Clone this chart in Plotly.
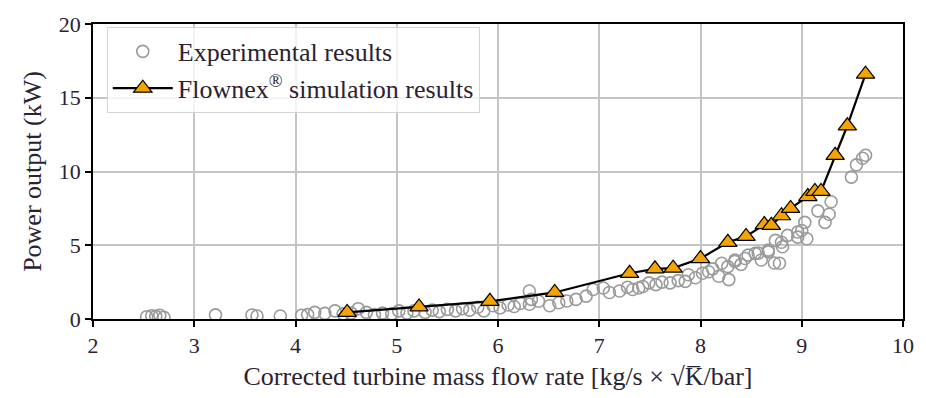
import plotly.graph_objects as go

# Experimental measurements: corrected mass flow rate vs power output (kW)
exp_flow = [2.53, 2.58, 2.62, 2.66, 2.70, 3.21, 3.57, 3.62, 3.85, 4.06, 4.12, 4.19, 4.29,
            4.39, 4.47, 4.55, 4.62, 4.70, 4.78, 4.86, 4.95, 5.02, 5.10, 5.17, 5.28, 5.35,
            5.42, 5.50, 5.58, 5.65, 5.72, 5.80, 5.86, 5.95, 6.02, 6.10, 6.16, 6.22, 6.31,
            6.33, 6.31, 6.40, 6.51, 6.60, 6.68, 6.77, 6.87, 6.94, 7.04, 7.10, 7.20, 7.28,
            7.33, 7.39, 7.43, 7.49, 7.56, 7.62, 7.70, 7.78, 7.85, 7.88, 7.95, 8.02, 8.08,
            8.12, 8.18, 8.21, 8.27, 8.28, 8.34, 8.34, 8.40, 8.44, 8.47, 8.54, 8.57, 8.60,
            8.67, 8.67, 8.73, 8.74, 8.78, 8.80, 8.81, 8.86, 8.96, 8.96, 9.00, 9.03, 9.05,
            9.16, 9.23, 9.27, 9.29, 9.49, 9.54, 9.60, 9.63]
exp_power = [0.15, 0.22, 0.18, 0.25, 0.12, 0.28, 0.27, 0.20, 0.20, 0.25, 0.30, 0.45, 0.38,
             0.55, 0.35, 0.40, 0.70, 0.45, 0.30, 0.40, 0.35, 0.55, 0.40, 0.55, 0.45, 0.60,
             0.50, 0.65, 0.55, 0.70, 0.60, 0.80, 0.55, 0.90, 0.75, 0.95, 0.85, 1.05, 1.90,
             1.33, 1.00, 1.20, 0.90, 1.10, 1.22, 1.33, 1.55, 2.00, 2.10, 1.80, 1.90, 2.15,
             2.00, 2.10, 2.20, 2.45, 2.33, 2.50, 2.45, 2.60, 2.55, 3.00, 2.80, 3.10, 3.20,
             3.40, 2.90, 3.78, 3.55, 2.67, 3.90, 4.00, 3.70, 4.10, 4.33, 4.45, 4.47, 4.00,
             4.55, 4.67, 3.80, 5.33, 3.78, 5.20, 4.90, 5.67, 5.55, 5.90, 6.00, 6.55, 5.44,
             7.33, 6.55, 7.10, 7.95, 9.62, 10.45, 10.90, 11.10]

# Flownex simulation results
sim_flow = [4.51, 5.22, 5.92, 6.56, 7.30, 7.55, 7.73, 8.00, 8.27, 8.45, 8.63, 8.70, 8.80,
            8.89, 9.06, 9.13, 9.19, 9.33, 9.45, 9.63]
sim_power = [0.45, 0.82, 1.20, 1.80, 3.10, 3.40, 3.45, 4.10, 5.20, 5.60, 6.40, 6.35, 7.00,
             7.50, 8.30, 8.65, 8.65, 11.10, 13.10, 16.60]

x_ticks = [2, 3, 4, 5, 6, 7, 8, 9, 10]
y_ticks = [0, 5, 10, 15, 20]

serif = "Liberation Serif, Times New Roman, serif"
ink = "#2a2233"

fig = go.Figure()
fig.add_trace(go.Scatter(
    x=exp_flow, y=exp_power, mode="markers", name="Experimental results",
    marker=dict(symbol="circle-open", size=12, color="#9a9a9a", line=dict(width=1.6)),
))
fig.add_trace(go.Scatter(
    x=sim_flow, y=sim_power, mode="lines+markers",
    name="Flownex<sup>®</sup> simulation results",
    line=dict(color="black", width=2.2),
    marker=dict(symbol="triangle-up", size=16, color="#f5a300",
                line=dict(color="black", width=1.2)),
))

fig.update_layout(
    width=926, height=398,
    margin=dict(l=93, r=17, t=20, b=78),
    plot_bgcolor="white", paper_bgcolor="white",
    showlegend=True,
    legend=dict(
        x=0.017, y=0.99, xanchor="left", yanchor="top",
        bgcolor="rgba(255,255,255,0.8)", bordercolor="#d4d4d4", borderwidth=1,
        font=dict(family=serif, size=26, color=ink),
        itemwidth=60,
    ),
)
fig.update_xaxes(
    range=[2, 10], tickvals=x_ticks, ticktext=[str(v) for v in x_ticks],
    showgrid=True, gridcolor="#c4c4c4", gridwidth=1.5,
    showline=True, linecolor="black", linewidth=1.5, mirror=True,
    ticks="outside", ticklen=6, tickwidth=1.5, tickcolor="black",
    tickfont=dict(family=serif, size=22, color=ink),
    title=dict(text="Corrected turbine mass flow rate [kg/s × √K\u0305/bar]",
               font=dict(family=serif, size=26, color=ink), standoff=10),
    zeroline=False,
)
fig.update_yaxes(
    range=[0, 20], tickvals=y_ticks, ticktext=[str(v) for v in y_ticks],
    showgrid=True, gridcolor="#c4c4c4", gridwidth=1.5,
    showline=True, linecolor="black", linewidth=1.5, mirror=True,
    ticks="outside", ticklen=6, tickwidth=1.5, tickcolor="black",
    tickfont=dict(family=serif, size=22, color=ink),
    title=dict(text="Power output (kW)", font=dict(family=serif, size=26, color=ink),
               standoff=10),
    zeroline=False,
)

fig.write_html("out.html")
